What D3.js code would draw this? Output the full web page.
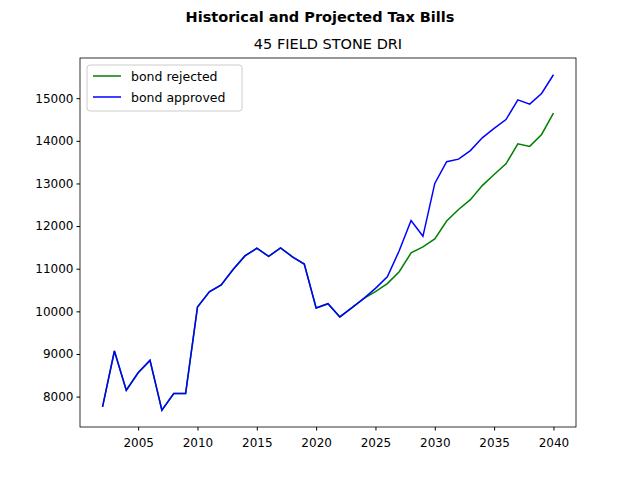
<!DOCTYPE html>
<html>
<head>
<meta charset="utf-8">
<script src="https://cdn.jsdelivr.net/npm/d3@7"></script>
<style>
  body { margin: 0; background: #fff; }
  text { font-family: "DejaVu Sans", sans-serif; }
</style>
</head>
<body>
<svg id="chart" width="640" height="480"></svg>
<script>
const years = d3.range(2002, 2041);

const rejected = [7760, 9070, 8150, 8560, 8850, 7680, 8070, 8070, 10100, 10460,
  10620, 10980, 11300, 11480, 11290, 11490, 11280, 11110, 10080, 10180,
  9870, 10080, 10300, 10460, 10650, 10930, 11370, 11510, 11700, 12120,
  12390, 12620, 12950, 13210, 13460, 13930, 13870, 14150, 14650];

const approved = [7760, 9070, 8150, 8560, 8850, 7680, 8070, 8070, 10100, 10460,
  10620, 10980, 11300, 11480, 11290, 11490, 11280, 11110, 10080, 10180,
  9870, 10080, 10300, 10540, 10810, 11420, 12130, 11760, 13000, 13510,
  13570, 13770, 14070, 14290, 14500, 14960, 14860, 15110, 15550];

const xTicks = [2005, 2010, 2015, 2020, 2025, 2030, 2035, 2040];
const yTicks = [8000, 9000, 10000, 11000, 12000, 13000, 14000, 15000];

const series = [
  { name: 'bond rejected', values: rejected, color: 'green' },
  { name: 'bond approved', values: approved, color: 'blue' }
];

const mLeft = 80, mRight = 576, mTop = 58, mBottom = 427;
const svg = d3.select('#chart');

const x = d3.scaleLinear().domain([2000.1, 2041.9]).range([mLeft, mRight]);
const y = d3.scaleLinear().domain([7287, 15943]).range([mBottom, mTop]);

svg.append('text').attr('x', 320).attr('y', 22).attr('text-anchor', 'middle')
  .attr('font-size', 14.5).attr('font-weight', 'bold')
  .text('Historical and Projected Tax Bills');
svg.append('text').attr('x', 328).attr('y', 49).attr('text-anchor', 'middle')
  .attr('font-size', 14.5).text('45 FIELD STONE DRI');

const line = d3.line().x((d, i) => x(years[i])).y(d => y(d));

series.forEach(s => {
  svg.append('path').attr('d', line(s.values))
    .attr('fill', 'none').attr('stroke', s.color).attr('stroke-width', 1.5);
});

const xAxis = svg.append('g').attr('transform', `translate(0,${mBottom})`)
  .call(d3.axisBottom(x).tickValues(xTicks).tickFormat(d3.format('d')).tickSize(3.5).tickSizeOuter(0));
const yAxis = svg.append('g').attr('transform', `translate(${mLeft},0)`)
  .call(d3.axisLeft(y).tickValues(yTicks).tickFormat(d3.format('d')).tickSize(3.5).tickSizeOuter(0));
[xAxis, yAxis].forEach(a => {
  a.select('.domain').remove();
  a.selectAll('text').attr('font-size', 12).attr('fill', '#000')
    .style('font-family', '"DejaVu Sans", sans-serif');
});
xAxis.selectAll('text').attr('dy', '1.1em');

svg.append('rect').attr('x', mLeft).attr('y', mTop)
  .attr('width', mRight - mLeft).attr('height', mBottom - mTop)
  .attr('fill', 'none').attr('stroke', '#000').attr('stroke-width', 0.8);

const legend = svg.append('g').attr('transform', 'translate(87,65)');
legend.append('rect').attr('width', 155).attr('height', 46).attr('rx', 3)
  .attr('fill', '#fff').attr('stroke', '#ccc');
series.forEach((s, i) => {
  const gy = 11 + i * 21;
  legend.append('line').attr('x1', 6).attr('x2', 34).attr('y1', gy).attr('y2', gy)
    .attr('stroke', s.color).attr('stroke-width', 1.5);
  legend.append('text').attr('x', 44).attr('y', gy + 4.5).attr('font-size', 12.5).text(s.name);
});
</script>
</body>
</html>
